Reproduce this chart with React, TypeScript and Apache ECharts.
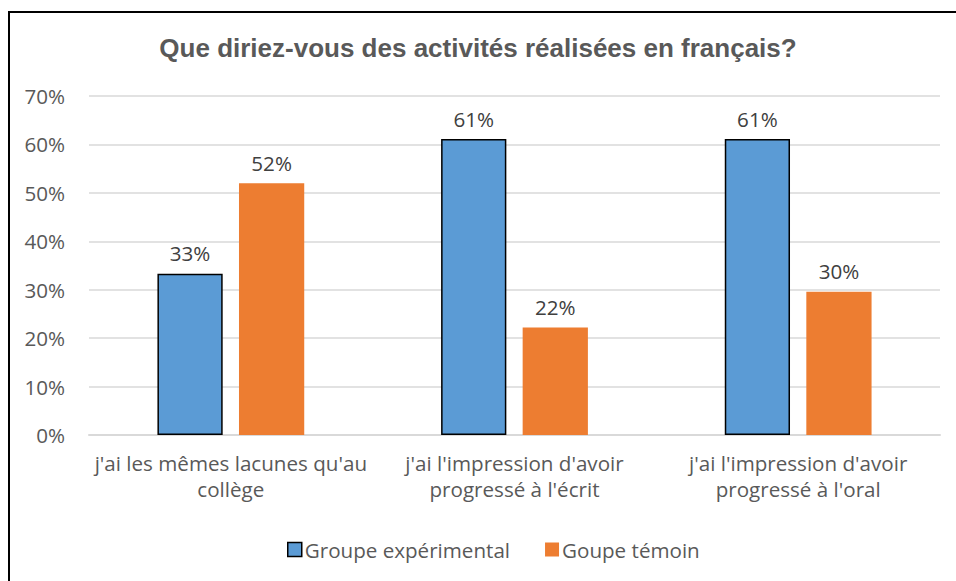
import React, { useEffect, useRef } from "react";
import * as echarts from "echarts";

const categories = [
  "j'ai les mêmes lacunes qu'au\ncollège",
  "j'ai l'impression d'avoir\nprogressé à l'écrit",
  "j'ai l'impression d'avoir\nprogressé à l'oral",
];
const experimental = [33.3, 61.1, 61.1];
const temoin = [52, 22.2, 29.6];
const seriesNames = ["Groupe expérimental", "Goupe témoin"];
const titleText = "Que diriez-vous des activités réalisées en français?";

const FONT = "'Open Sans', 'Noto Sans', sans-serif";
const FS = 20.6;

export default function App() {
  const ref = useRef<HTMLDivElement>(null);
  useEffect(() => {
    const chart = echarts.init(ref.current!, null, { renderer: "svg" });
    const labelCfg = {
      show: true,
      position: "top",
      distance: 10,
      color: "#404040",
      fontSize: FS,
      fontFamily: FONT,
      formatter: (p: any) => Math.round(p.value) + "%",
    };
    chart.setOption({
      animation: false,
      backgroundColor: "#ffffff",
      title: {
        text: titleText,
        left: "center",
        top: 30,
        textStyle: {
          color: "#595959",
          fontSize: 26,
          fontWeight: "bold",
          fontFamily: "'Liberation Sans', Arial, sans-serif",
        },
      },
      graphic: [
        {
          type: "line",
          shape: { x1: 9, y1: 11, x2: 9, y2: 581 },
          style: { stroke: "#000000", lineWidth: 2 },
          silent: true,
        },
        {
          type: "line",
          shape: { x1: 8, y1: 12, x2: 956, y2: 12 },
          style: { stroke: "#000000", lineWidth: 2 },
          silent: true,
        },
      ],
      legend: {
        left: 282,
        top: 534,
        itemWidth: 14,
        itemHeight: 14,
        itemGap: 35,
        icon: "rect",
        textStyle: { color: "#595959", fontSize: FS, fontFamily: FONT, padding: [0, 0, 0, -2] },
        data: [
          { name: seriesNames[0], itemStyle: { color: "#5b9bd5", borderColor: "#000", borderWidth: 1.5 } },
          { name: seriesNames[1], itemStyle: { color: "#ed7d31", borderWidth: 0 } },
        ],
      },
      grid: { left: 89, right: 16, top: 96, bottom: 146, containLabel: false },
      xAxis: {
        type: "category",
        data: categories,
        axisTick: { show: false },
        axisLine: { lineStyle: { color: "#d9d9d9", width: 2 } },
        axisLabel: {
          color: "#595959",
          fontSize: FS,
          fontFamily: FONT,
          lineHeight: 26,
          margin: 15,
          interval: 0,
        },
      },
      yAxis: {
        type: "value",
        min: 0,
        max: 70,
        interval: 10,
        axisLabel: {
          formatter: "{value}%",
          color: "#595959",
          fontSize: FS,
          fontFamily: FONT,
          margin: 24,
        },
        axisLine: { show: false },
        axisTick: { show: false },
        splitLine: { lineStyle: { color: "#d9d9d9", width: 1.5 } },
      },
      series: [
        {
          name: seriesNames[0],
          type: "bar",
          data: experimental,
          barWidth: "23%",
          barGap: "25%",
          itemStyle: { color: "#5b9bd5", borderColor: "#000000", borderWidth: 1.5 },
          label: labelCfg,
        },
        {
          name: seriesNames[1],
          type: "bar",
          data: temoin,
          barWidth: "23%",
          itemStyle: { color: "#ed7d31" },
          label: labelCfg,
        },
      ],
    });
    return () => chart.dispose();
  }, []);
  return (
    <div
      ref={ref}
      style={{ position: "fixed", left: 0, top: 0, width: 956, height: 581 }}
    />
  );
}
